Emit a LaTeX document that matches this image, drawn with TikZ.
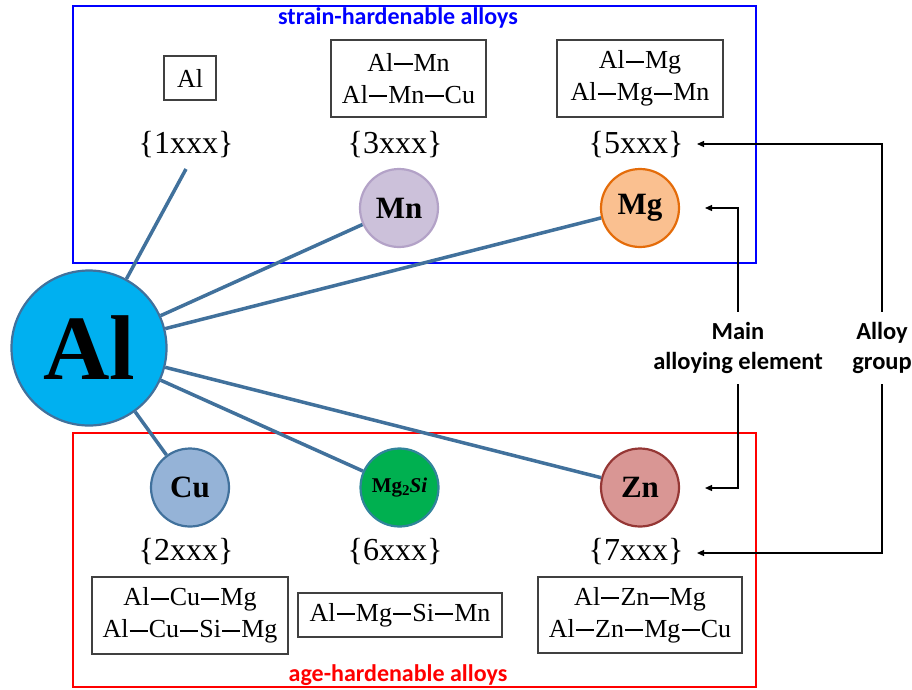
\documentclass[tikz,border=0pt]{standalone}
\usepackage{fontspec}
\setmainfont{Liberation Serif}
\newfontfamily\calib{Carlito}
\usetikzlibrary{arrows.meta}
\definecolor{linec}{HTML}{41719C}
\definecolor{alfill}{HTML}{00B0F0}
\definecolor{mnfill}{HTML}{CCC1DA}
\definecolor{mnbord}{HTML}{B3A2C7}
\definecolor{mgfill}{HTML}{FAC090}
\definecolor{mgbord}{HTML}{E46C0A}
\definecolor{cufill}{HTML}{95B3D7}
\definecolor{sifill}{HTML}{00B050}
\definecolor{sibord}{HTML}{31849B}
\definecolor{znfill}{HTML}{D99694}
\definecolor{znbord}{HTML}{953735}
\definecolor{boxc}{HTML}{404040}
\newcommand\alldash{\kern.04em\rule[.23em]{.7em}{.075em}\kern.04em}
\begin{document}
\begin{tikzpicture}[x=1pt,y=-1pt,
  elem/.style={circle,line width=2.2pt,inner sep=0pt,minimum size=78pt,font=\bfseries\fontsize{31}{31}\selectfont},
  lab/.style={inner sep=0pt,font=\fontsize{32}{32}\selectfont},
  abox/.style={draw=boxc,line width=1.1pt,align=center,inner sep=0pt,font=\fontsize{26}{32}\selectfont},
  conn/.style={draw=linec,line width=3.5pt},
  arr/.style={-{Triangle[length=7pt,width=6pt]},line width=1.2pt},
  grp/.style={line width=2.2pt},
  note/.style={align=center,inner sep=0pt,font=\calib\bfseries\fontsize{24.5}{30}\selectfont},
  title/.style={inner sep=0pt,font=\calib\bfseries\fontsize{24}{24}\selectfont}]
\useasboundingbox (0,0) rectangle (912,689);
% group boxes
\draw[grp,draw=blue] (73,6) rectangle (756,263);
\draw[grp,draw=red] (73,433) rectangle (756,687);
\node[title,text=blue] (tsh) at (398,18) {strain-hardenable alloys};
\node[title,text=red] (tah) at (398,675) {age-hardenable alloys};
% alloy boxes
\node[abox,minimum width=52pt,minimum height=44pt] (b1) at (190,78) {Al};
\node[abox,minimum width=155pt,minimum height=77pt] (b3) at (408.5,78.5) {Al\alldash Mn\\Al\alldash Mn\alldash Cu};
\node[abox,minimum width=166pt,minimum height=77pt] (b5) at (640,78.5) {Al\alldash Mg\\Al\alldash Mg\alldash Mn};
\node[abox,minimum width=196pt,minimum height=77pt] (b2) at (190,615.5) {Al\alldash Cu\alldash Mg\\Al\alldash Cu\alldash Si\alldash Mg};
\node[abox,minimum width=204pt,minimum height=44pt] (b6) at (400,615) {Al\alldash Mg\alldash Si\alldash Mn};
\node[abox,minimum width=204pt,minimum height=76pt] (b7) at (640,615) {Al\alldash Zn\alldash Mg\\Al\alldash Zn\alldash Mg\alldash Cu};
% series labels
\node[lab] (s1) at (186,145) {\{1xxx\}};
\node[lab] (s3) at (395,145) {\{3xxx\}};
\node[lab] (s5) at (636,145) {\{5xxx\}};
\node[lab] (s2) at (186,552) {\{2xxx\}};
\node[lab] (s6) at (395,552) {\{6xxx\}};
\node[lab] (s7) at (636,552) {\{7xxx\}};
% elements
\node[elem,minimum size=155pt,fill=alfill,draw=linec,font=\bfseries\fontsize{92}{92}\selectfont] (Al) at (89,348) {Al};
\node[elem,fill=mnfill,draw=mnbord] (Mn) at (399,208) {Mn};
\node[elem,fill=mgfill,draw=mgbord] (Mg) at (640,208) {Mg};
\node[elem,fill=cufill,draw=linec] (Cu) at (190,487.5) {Cu};
\node[elem,fill=sifill,draw=sibord,font=\bfseries\fontsize{21}{21}\selectfont] (Si) at (399.5,487.5) {Mg\raisebox{-.3ex}{\fontsize{15}{15}\selectfont 2}\textit{Si}};
\node[elem,fill=znfill,draw=znbord] (Zn) at (640,487.5) {Zn};
% connectors
\coordinate (c1) at (186,169);
\draw[conn] (Al) -- (c1);
\draw[conn] (Al) -- (Mn);
\draw[conn] (Al) -- (Mg);
\draw[conn] (Al) -- (Cu);
\draw[conn] (Al) -- (Si);
\draw[conn] (Al) -- (Zn);
% annotations
\node[note,minimum height=72pt] (ME) at (738,348) {Main\\alloying element};
\node[note,minimum height=72pt] (AG) at (882,348) {Alloy\\group};
\coordinate (tMg) at (705,208);
\coordinate (tZn) at (705,488);
\coordinate (t5) at (697,144);
\coordinate (t7) at (697,553);
\draw[arr] (ME.north) |- (tMg);
\draw[arr] (ME.south) |- (tZn);
\draw[arr] (AG.north) |- (t5);
\draw[arr] (AG.south) |- (t7);
\end{tikzpicture}
\end{document}
